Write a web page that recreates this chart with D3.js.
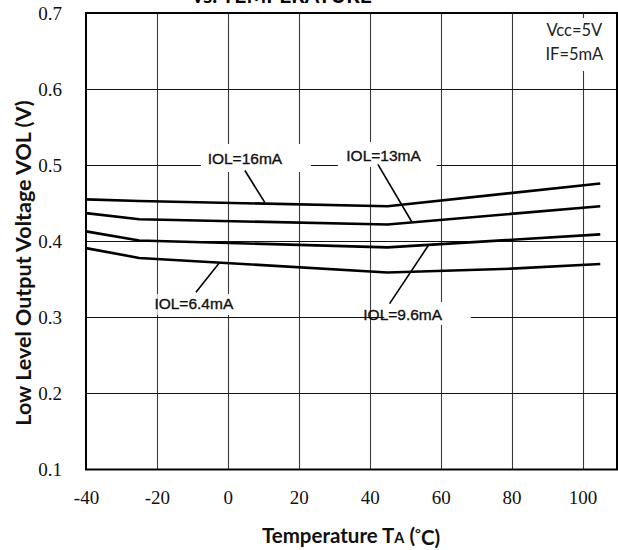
<!DOCTYPE html>
<html>
<head>
<meta charset="utf-8">
<script src="https://cdn.jsdelivr.net/npm/d3@7"></script>
<style>
  html, body { margin: 0; padding: 0; background: #fff; }
  svg { display: block; }
</style>
</head>
<body>
<svg id="chart" width="618" height="550"></svg>
<script>
// ---- data ----
const xTicks = [-40, -20, 0, 20, 40, 60, 80, 100];
const yTicks = [0.1, 0.2, 0.3, 0.4, 0.5, 0.6, 0.7];
const seriesNames = ["IOL=16mA", "IOL=13mA", "IOL=9.6mA", "IOL=6.4mA"];
const temps16 = [-40, -25, 45, 105];
const vol16   = [0.455, 0.453, 0.446, 0.476];
const temps13 = [-40, -25, 45, 105];
const vol13   = [0.437, 0.429, 0.422, 0.446];
const temps96 = [-40, -25, 45, 105];
const vol96   = [0.413, 0.401, 0.392, 0.409];
const temps64 = [-40, -25, 45, 80, 105];
const vol64   = [0.391, 0.378, 0.359, 0.364, 0.370];
const conditions = ["Vcc=5V", "IF=5mA"];
// annotation anchors (data units): label centre, leader start, leader end
const labelT   = [4.8, 43.9, 49.3, -9.6];
const labelV   = [0.509, 0.513, 0.304, 0.318];
const leadT0   = [4.8, 42.3, 45.6, -9.0];
const leadV0   = [0.493, 0.501, 0.318, 0.333];
const leadT1   = [10.4, 51.8, 56.6, -2.5];
const leadV1   = [0.451, 0.426, 0.395, 0.371];

const series = [
  {name: seriesNames[0], t: temps16, v: vol16},
  {name: seriesNames[1], t: temps13, v: vol13},
  {name: seriesNames[2], t: temps96, v: vol96},
  {name: seriesNames[3], t: temps64, v: vol64}
];

// ---- layout ----
const svg = d3.select("#chart");
const x = d3.scaleLinear().domain([-40, 110]).range([86, 618]);
const y = d3.scaleLinear().domain([0.1, 0.7]).range([469.5, 13]);
const pLeft = x(-40), pRight = x(110), pTop = y(0.7), pBottom = y(0.1);

// title (cut off at top, as in the source)
svg.append("text")
  .attr("x", 282).attr("y", 3)
  .attr("text-anchor", "middle")
  .attr("font-family", "Lato, 'Open Sans', sans-serif")
  .attr("font-weight", "bold").attr("font-size", 21)
  .text("vs. TEMPERATURE");

// grid
const grid = svg.append("g");
grid.selectAll("line.v").data(xTicks.filter(d => d > -40)).join("line")
  .attr("x1", d => Math.round(x(d)) + 0.5).attr("x2", d => Math.round(x(d)) + 0.5)
  .attr("y1", pTop).attr("y2", pBottom)
  .attr("stroke", "#3a3a3a").attr("stroke-width", 1.1);
grid.selectAll("line.h").data(yTicks.filter(d => d > 0.1 && d < 0.7)).join("line")
  .attr("x1", pLeft).attr("x2", pRight)
  .attr("y1", d => Math.round(y(d)) + 0.5).attr("y2", d => Math.round(y(d)) + 0.5)
  .attr("stroke", "#111").attr("stroke-width", 1);

// axes (tick labels only)
const xAxis = d3.axisBottom(x).tickValues(xTicks).tickSize(0).tickPadding(0)
  .tickFormat(d => String(d));
const gx = svg.append("g").attr("transform", `translate(0,${pBottom + 22})`).call(xAxis);
gx.select(".domain").remove();
gx.selectAll("text").attr("font-family", "'Liberation Serif', 'Times New Roman', serif")
  .attr("font-size", 19).attr("fill", "#111").attr("dy", "0.35em").attr("y", 6);

const yAxis = d3.axisLeft(y).tickValues(yTicks).tickSize(0).tickPadding(24).tickFormat(d3.format(".1f"));
const gy = svg.append("g").attr("transform", `translate(${pLeft},0)`).call(yAxis);
gy.select(".domain").remove();
gy.selectAll("text").attr("font-family", "'Liberation Serif', 'Times New Roman', serif")
  .attr("font-size", 19).attr("fill", "#111");

// label backgrounds (white boxes that break the grid)
const boxes = svg.append("g");
function whiteBox(x0, x1, v0, v1) {
  boxes.append("rect").attr("x", x(x0)).attr("y", y(v0))
    .attr("width", x(x1) - x(x0)).attr("height", y(v1) - y(v0))
    .attr("fill", "#fff");
}
whiteBox(-7.6, 23.4, 0.5278, 0.4910);   // 16mA
whiteBox(31.0, 58.9, 0.5305, 0.4976);   // 13mA
whiteBox(44.1, 68.5, 0.3202, 0.2899);   // 9.6mA
whiteBox(-19.9, 5.4, 0.3307, 0.3031);   // 6.4mA
whiteBox(90.1, 109.8, 0.6934, 0.6238);  // conditions

// curves
const line = d3.line().x(d => x(d[0])).y(d => y(d[1]));
svg.append("g").selectAll("path").data(series).join("path")
  .attr("d", s => line(s.t.map((t, i) => [t, s.v[i]])))
  .attr("fill", "none").attr("stroke", "#000").attr("stroke-width", 2.6)
  .attr("stroke-linejoin", "round");

// leaders + labels
const ann = svg.append("g");
seriesNames.forEach((n, i) => {
  ann.append("line")
    .attr("x1", x(leadT0[i])).attr("y1", y(leadV0[i]))
    .attr("x2", x(leadT1[i])).attr("y2", y(leadV1[i]))
    .attr("stroke", "#000").attr("stroke-width", 1.6);
  ann.append("text")
    .attr("x", x(labelT[i])).attr("y", y(labelV[i]))
    .attr("text-anchor", "middle").attr("dy", "0.35em")
    .attr("font-family", "'Liberation Sans', Arial, sans-serif")
    .attr("font-size", 15.5).attr("fill", "#111")
    .attr("stroke", "#111").attr("stroke-width", 0.35)
    .text(n);
});

// conditions text
svg.append("g").selectAll("text").data(conditions).join("text")
  .attr("x", x(97.7)).attr("y", (d, i) => y(0.677) + i * 24)
  .attr("text-anchor", "middle").attr("dy", "0.35em")
  .attr("font-family", "Lato, 'Open Sans', sans-serif")
  .attr("font-size", 16.5).attr("fill", "#222")
  .text(d => d);

// frame
svg.append("rect").attr("x", pLeft).attr("y", pTop)
  .attr("width", pRight - pLeft - 1).attr("height", pBottom - pTop)
  .attr("fill", "none").attr("stroke", "#000").attr("stroke-width", 2);

// axis titles
const xt = svg.append("text").attr("x", 351).attr("y", 536).attr("dy", "0.35em")
  .attr("text-anchor", "middle")
  .attr("font-family", "Lato, 'Open Sans', sans-serif")
  .attr("font-weight", "bold").attr("font-size", 20.5).attr("fill", "#111");
xt.append("tspan").text("Temperature T");
xt.append("tspan").attr("font-size", 14.5).text("A");
xt.append("tspan").text(" (");
xt.append("tspan").attr("font-size", 14).attr("dy", "-0.35em").text("°");
xt.append("tspan").attr("dy", "0.35em").text("C)");

svg.append("text")
  .attr("transform", `translate(23,${263}) rotate(-90)`)
  .attr("text-anchor", "middle").attr("dy", "0.35em")
  .attr("font-family", "Lato, 'Open Sans', sans-serif")
  .attr("font-weight", "bold").attr("font-size", 21.5).attr("fill", "#111")
  .text("Low Level Output Voltage VOL (V)");
</script>
</body>
</html>
